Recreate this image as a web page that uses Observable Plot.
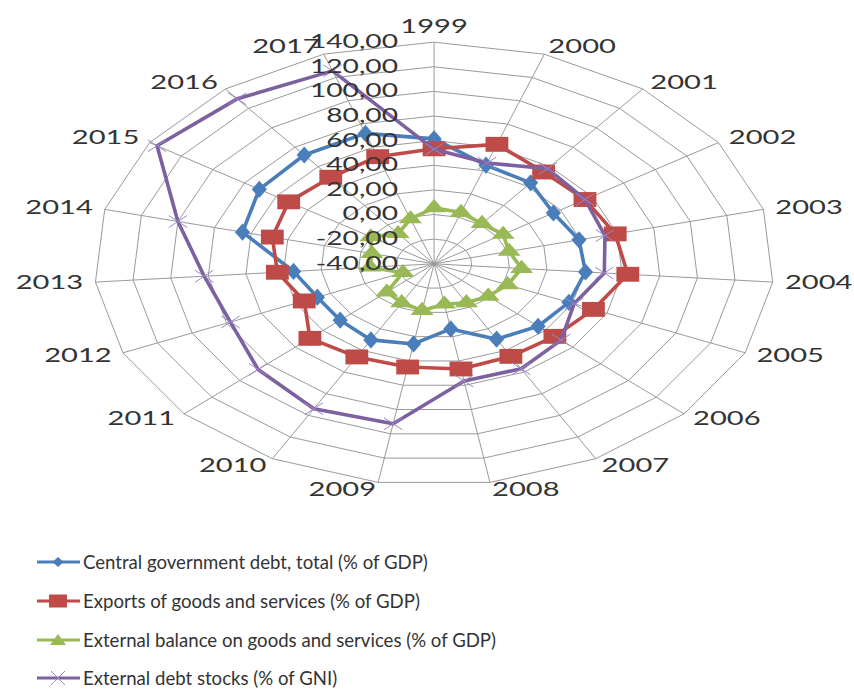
<!DOCTYPE html>
<html>
<head>
<meta charset="utf-8">
<script src="https://cdn.jsdelivr.net/npm/d3@7"></script>
<script src="https://cdn.jsdelivr.net/npm/@observablehq/plot@0.6"></script>
<style>
  html, body { margin: 0; padding: 0; background: #fff; }
  #wrap { position: relative; width: 854px; height: 689px; overflow: hidden; font-family: Lato, "Open Sans", sans-serif; }
  #chart { position: absolute; left: 0; top: 0; }
  #chart svg path, #chart svg line { vector-effect: non-scaling-stroke; }
  #legend { position: absolute; left: 0; top: 520px; width: 854px; height: 169px; }
  .item { position: absolute; left: 0; height: 22px; display: flex; align-items: center; font-size: 18.6px; color: #333; white-space: nowrap; line-height: 22px; }
  .item svg { display: block; }
</style>
</head>
<body>
<div id="wrap">
  <div id="chart"></div>
  <div id="legend"></div>
</div>
<script>
// ---------- data ----------
const years = ["1999","2000","2001","2002","2003","2004","2005","2006","2007","2008",
               "2009","2010","2011","2012","2013","2014","2015","2016","2017"];
const centralDebt      = [61.5, 44.7, 43.3, 35.5, 39.2, 40.5, 38.0, 34.9, 29.6, 13.6, 26.0, 30.3, 27.6, 27.5, 34.7, 64.7, 70.6, 72.0, 72.0];
const exportsGdp       = [53.4, 62.6, 54.5, 55.5, 59.0, 63.0, 52.2, 47.0, 45.5, 46.6, 45.0, 46.0, 49.4, 35.1, 43.3, 48.4, 52.0, 49.1, 52.0];
const externalBalance  = [5.5, 4.0, 1.4, 3.7, 1.0, 6.5, 2.5, -1.0, -4.0, -6.7, -1.5, -4.0, -6.0, -22.0, -6.0, -6.0, 0.0, -9.0, -1.5];
const externalDebt     = [53.0, 46.5, 58.0, 55.5, 53.4, 50.5, 41.0, 51.5, 57.0, 56.5, 91.7, 93.8, 86.7, 77.8, 82.2, 100.0, 135.3, 129.8, 125.7];
const radialTicks = [-40, -20, 0, 20, 40, 60, 80, 100, 120, 140];
const seriesNames = [
  "Central government debt, total (% of GDP)",
  "Exports of goods and services (% of GDP)",
  "External balance on goods and services (% of GDP)",
  "External debt stocks (% of GNI)"
];
const seriesColors = ["#4A7EBB", "#BE4B48", "#98B954", "#7D60A0"];
const seriesSymbols = ["diamond", "square", "triangle", "times"];
const seriesValues = [centralDebt, exportsGdp, externalBalance, externalDebt];

// ---------- geometry ----------
const W = 557, H = 520, S = 854 / W;       // drawn at W, stretched to 854 wide
const cxPx = 433.3 / S, cyPx = 263.3;
const rMin = radialTicks[0], rMax = radialTicks[radialTicks.length - 1];
const k = 221.6 / (rMax - rMin);            // px per unit
const n = years.length;
const ang = i => 2 * Math.PI * i / n;
const pt = (v, i) => ({ x: (v - rMin) * Math.sin(ang(i)), y: (v - rMin) * Math.cos(ang(i)) });

const rings = radialTicks.filter(t => t > rMin).flatMap(t => years.map((yr, i) => ({ tick: t, ...pt(t, i) })));
const spokes = years.map((yr, i) => { const p = pt(rMax, i); return { x1: 0, y1: 0, x2: p.x, y2: p.y }; });
const labelPts = years.map((yr, i) => ({ year: yr, s: Math.sin(ang(i)), ...pt(rMax + 6.5, i) }));
const fmt = t => t.toFixed(2).replace(".", ",");

const seriesMarks = seriesValues.flatMap((vals, si) => {
  const pts = vals.map((v, i) => ({ year: years[i], value: v, ...pt(v, i) }));
  const col = seriesColors[si];
  const sym = seriesSymbols[si];
  const dot = sym === "times"
    ? Plot.dot(pts, { x: "x", y: "y", symbol: sym, r: 5.5, stroke: "#9C86C6", strokeWidth: 1 })
    : Plot.dot(pts, { x: "x", y: "y", symbol: sym, r: sym === "square" ? 8.4 : (sym === "diamond" ? 5.2 : 5.6), fill: col });
  return [
    Plot.line(pts, { x: "x", y: "y", curve: "linear-closed", stroke: col, strokeWidth: 3.6 }),
    dot
  ];
});

const textStyle = { fontFamily: "Lato, 'Open Sans', sans-serif", fill: "#333" };

const plot = Plot.plot({
  width: W, height: H,
  marginTop: 0, marginRight: 0, marginBottom: 0, marginLeft: 0,
  x: { domain: [-cxPx / k, (W - cxPx) / k], range: [0, W], axis: null },
  y: { domain: [-(H - cyPx) / k, cyPx / k], range: [H, 0], axis: null },
  style: { background: "#fff", overflow: "visible" },
  marks: [
    Plot.line(rings, { x: "x", y: "y", z: "tick", curve: "linear-closed", stroke: "#9a9a9a", strokeWidth: 1 }),
    Plot.link(spokes, { x1: "x1", y1: "y1", x2: "x2", y2: "y2", stroke: "#9a9a9a", strokeWidth: 1 }),
    ...seriesMarks,
    Plot.text(radialTicks, { x: () => 0, y: t => t - rMin, dx: -23.5, text: fmt, textAnchor: "end", fontSize: 18.4, ...textStyle }),
    Plot.text(labelPts.filter(d => d.s > 0.01), { x: "x", y: "y", text: "year", textAnchor: "start", fontSize: 19, ...textStyle }),
    Plot.text(labelPts.filter(d => d.s < -0.01), { x: "x", y: "y", text: "year", textAnchor: "end", fontSize: 19, ...textStyle }),
    Plot.text(labelPts.filter(d => Math.abs(d.s) <= 0.01), { x: "x", y: "y", text: "year", textAnchor: "middle", dy: -7, fontSize: 19, ...textStyle })
  ]
});

plot.setAttribute("width", 854);
plot.setAttribute("height", H);
plot.setAttribute("viewBox", `0 0 ${W} ${H}`);
plot.setAttribute("preserveAspectRatio", "none");
plot.style.width = "854px";
plot.style.height = H + "px";
plot.style.maxWidth = "none";
document.getElementById("chart").appendChild(plot);

// ---------- legend ----------
const legendCenters = [562, 601, 640, 678];
const legend = document.getElementById("legend");
const swatchSymbol = (si, col) => {
  if (si === 0) return `<path d="M58,6 L63.5,11 L58,16 L52.5,11 Z" fill="${col}"/>`;
  if (si === 1) return `<rect x="49" y="4.5" width="18" height="13" fill="${col}"/>`;
  if (si === 2) return `<path d="M58,5 L66,16 L50,16 Z" fill="${col}"/>`;
  return `<path d="M51,4 L65,18 M65,4 L51,18" stroke="#9C86C6" stroke-width="1" fill="none"/>`;
};
seriesNames.forEach((name, si) => {
  const col = seriesColors[si];
  const div = document.createElement("div");
  div.className = "item";
  div.style.top = (legendCenters[si] - 520 - 11) + "px";
  div.innerHTML = `<svg width="83" height="22"><line x1="37" x2="80" y1="11" y2="11" stroke="${col}" stroke-width="3"/>${swatchSymbol(si, col)}</svg><span>${name}</span>`;
  legend.appendChild(div);
});
</script>
</body>
</html>
